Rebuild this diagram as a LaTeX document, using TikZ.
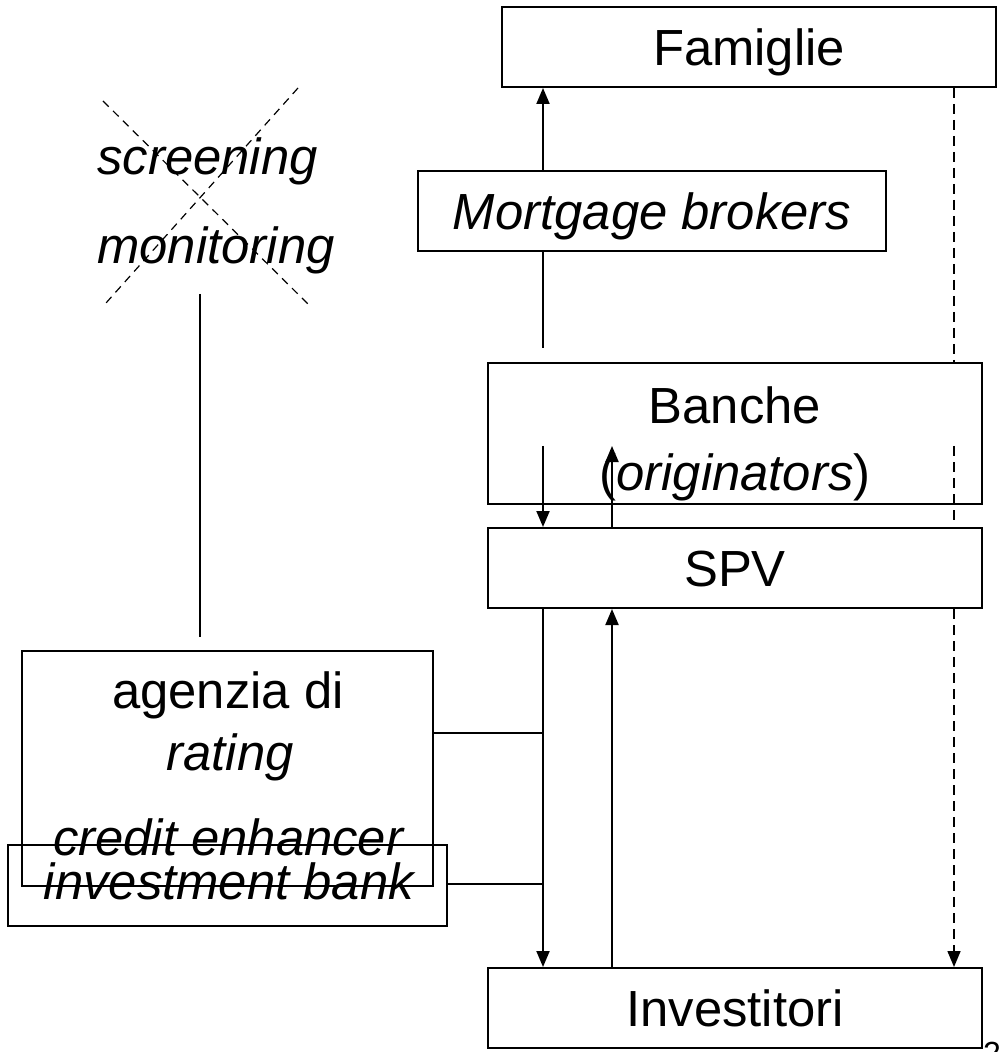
\documentclass[tikz,border=0pt]{standalone}
\usepackage{fontspec}
\setmainfont{Liberation Sans}
\usetikzlibrary{arrows.meta}
\begin{document}
\begin{tikzpicture}[x=0.5pt,y=-0.5pt,
  box/.style={draw,line width=1pt,inner sep=0pt,minimum width=247pt,minimum height=40pt,
    text height=18.2pt,text depth=0pt,font=\fontsize{25.4}{30.5}\selectfont},
  emptybox/.style={draw,line width=1pt,inner sep=0pt},
  lbl/.style={inner sep=0pt,font=\fontsize{25.4}{30.5}\selectfont},
  conn/.style={line width=1pt},
  arr/.style={line width=1pt,-{Triangle[length=8pt,width=6.5pt]}},
  dsh/.style={line width=0.8pt,dash pattern=on 5pt off 3pt},
  cross/.style={line width=0.6pt,dash pattern=on 4pt off 3pt},
  ]
\useasboundingbox (0,0) rectangle (998,1052);

% boxes
\node[box] (fam) at (749,47) {Famiglie};
\node[box,minimum width=234pt] (mb) at (652,211) {\textit{Mortgage brokers}};
\node[emptybox,minimum width=247pt,minimum height=70.5pt] (ban) at (735,433.5) {};
\node[lbl,anchor=base] (banA) at (735,423) {Banche};
\node[lbl,anchor=base] (banB) at (735,490) {(\textit{originators})};
\node[box] (spv) at (735,568) {SPV};
\node[box] (inv) at (735,1008) {Investitori};

\node[emptybox,minimum width=205.5pt,minimum height=117.5pt] (ag) at (227.5,768.5) {};
\node[lbl,anchor=base] (agA) at (228,708) {agenzia di};
\node[lbl,anchor=base] (agB) at (230,770) {\textit{rating}};
\node[emptybox,minimum width=219.5pt,minimum height=40.5pt] (ib) at (227.5,885.5) {};
\node[lbl,anchor=base] (ce) at (229,855) {\textit{credit enhancer}};
\node[lbl,anchor=base] (ibt) at (230,899) {\textit{investment bank}};

\node[lbl,anchor=base west] (scr) at (97,175) {\textit{screening}};
\node[lbl,anchor=base west] (mon) at (97,264) {\textit{monitoring}};

\node[inner sep=0pt,anchor=north,font=\fontsize{16}{19}\selectfont] (pg) at (992,1042) {2};

% reference x positions
\coordinate (xa) at (543,0);
\coordinate (xb) at (612,0);
\coordinate (xd) at (954,0);

% top part
\draw[arr] (mb.north -| xa) -- (fam.south -| xa);
\coordinate (mbend) at (543,348);
\draw[conn] (mb.south -| xa) -- (mbend);
\draw[dsh] (fam.south -| xd) -- (ban.north -| xd);

% banche <-> spv
\coordinate (bA) at (543,446);
\coordinate (bB) at (612,446);
\coordinate (bD) at (954,446);
\coordinate (bDe) at (954,523);
\draw[arr] (bA) -- (spv.north -| bA);
\draw[arr] (spv.north -| bB) -- (bB);
\draw[dsh] (bD) -- (bDe);

% spv <-> investitori
\draw[arr] (spv.south -| xa) -- (inv.north -| xa);
\draw[arr] (inv.north -| xb) -- (spv.south -| xb);
\draw[dsh,-{Triangle[length=8pt,width=6.5pt]}] (spv.south -| xd) -- (inv.north -| xd);

% side links
\coordinate (hA) at (543,733);
\coordinate (hB) at (543,884);
\draw[conn] (hA -| ag.east) -- (hA);
\draw[conn] (hB -| ib.east) -- (hB);

% left vertical line
\coordinate (vt) at (200,294);
\coordinate (vb) at (200,637);
\draw[conn] (vt) -- (vb);

% cross over screening / monitoring
\coordinate (c1) at (103,101);
\coordinate (c2) at (308,304);
\coordinate (c3) at (298,88);
\coordinate (c4) at (106,303);
\draw[cross] (c1) -- (c2);
\draw[cross] (c3) -- (c4);
\end{tikzpicture}
\end{document}
